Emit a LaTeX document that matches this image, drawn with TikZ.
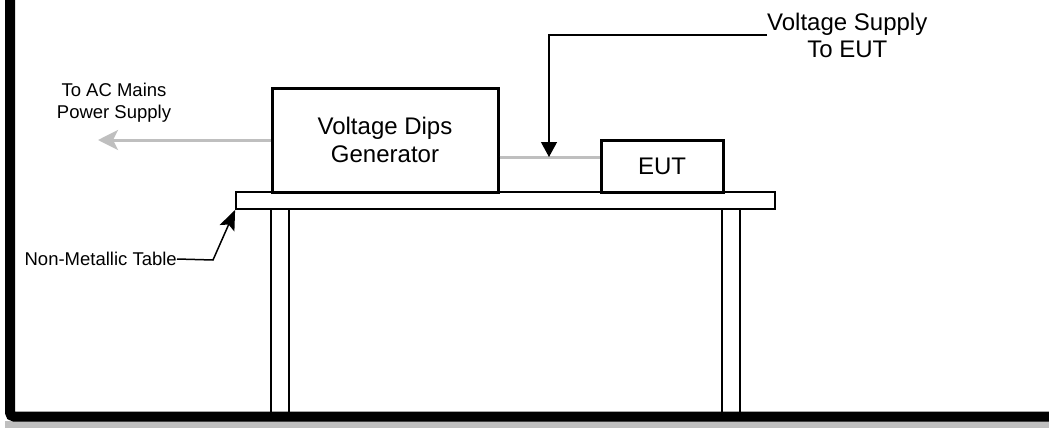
\documentclass[tikz,border=0pt]{standalone}
\usepackage{fontspec}
\setmainfont{Liberation Sans}
\usetikzlibrary{arrows.meta}
\definecolor{cablegray}{RGB}{191,191,191}
\tikzset{
  box/.style={draw=black, line width=3pt, rectangle, inner sep=0pt, align=center, font=\fontsize{24}{28}\selectfont},
  bigtext/.style={align=center, inner sep=0pt, font=\fontsize{24}{27}\selectfont},
  smalltext/.style={align=center, inner sep=0pt, font=\fontsize{18.5}{22}\selectfont},
  cable/.style={draw=cablegray, line width=3pt},
  pointer/.style={draw=black, line width=1.2pt},
  legline/.style={draw=black, line width=2pt},
}
\begin{document}
\begin{tikzpicture}[x=1pt,y=-1pt]
\useasboundingbox (0,0) rectangle (1049,429);
% floor shadow and wall
\fill[cablegray] (5,421) rectangle (1049,428);
\draw[line width=10pt, rounded corners=4pt] (10,-6) -- (10,416.5) -- (1060,416.5);
% table
\draw[legline] (271,209) -- (271,412);
\draw[legline] (289,209) -- (289,412);
\draw[legline] (722,209) -- (722,412);
\draw[legline] (740,209) -- (740,412);
\node[draw=black, line width=1.8pt, rectangle, minimum width=539pt, minimum height=17pt, inner sep=0pt] (table) at (505.5,200.5) {};
% boxes
\node[box, minimum width=226pt, minimum height=104pt] (gen) at (385,140) {Voltage Dips\\Generator};
\node[box, minimum width=122pt, minimum height=52pt] (eut) at (662,166) {EUT};
% cables
\coordinate (ac) at (98,140);
\coordinate (s) at (549,157);
\draw[cable, -{Stealth[length=20pt,width=20pt,inset=5pt]}] (gen.west) -- (ac);
\draw[cable] (gen.east |- s) -- (eut.west |- s);
% labels
\node[smalltext] (aclabel) at (114,103) {To AC Mains\\Power Supply};
\node[bigtext, anchor=west] (vs) at (767,35) {Voltage Supply\\To EUT};
\draw[pointer, -{Triangle[length=15pt,width=16pt]}] (vs.west) -| (s);
\node[smalltext, anchor=east] (nmt) at (177,259) {Non-Metallic Table};
\coordinate (bend) at (213,260);
\draw[pointer, line width=1.5pt, -{Stealth[length=20pt,width=16pt,inset=4pt]}] (nmt.east) -- (bend) -- (table.south west);
\end{tikzpicture}
\end{document}
